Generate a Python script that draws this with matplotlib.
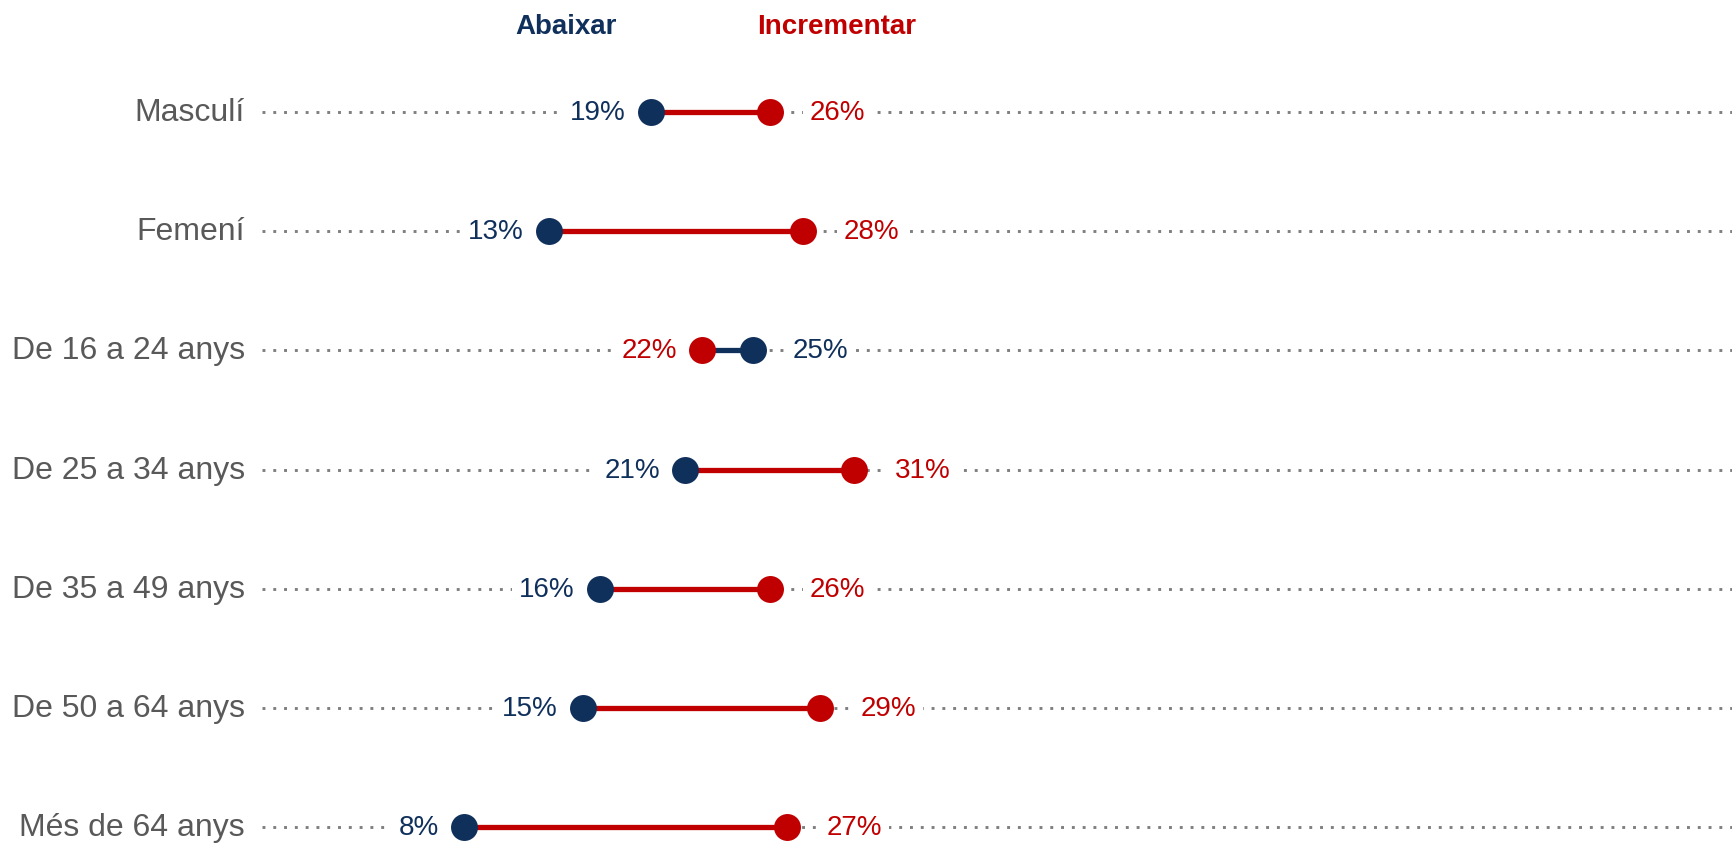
import matplotlib
matplotlib.use("Agg")
import matplotlib.pyplot as plt

plt.rcParams['font.family'] = ['Liberation Sans', 'DejaVu Sans']

# Data
categories = ["Masculí", "Femení", "De 16 a 24 anys", "De 25 a 34 anys",
              "De 35 a 49 anys", "De 50 a 64 anys", "Més de 64 anys"]
abaixar = [19, 13, 25, 21, 16, 15, 8]
incrementar = [26, 28, 22, 31, 26, 29, 27]
series_names = ["Abaixar", "Incrementar"]

BLUE = "#10305C"
RED = "#C00000"
GREY_TXT = "#595959"
GREY_DOT = "#7F7F7F"

W, H, DPI = 1733, 845, 100
fig = plt.figure(figsize=(W / DPI, H / DPI), dpi=DPI)
ax = fig.add_axes([0, 0, 1, 1])

px_per_unit = 16.96
x0_px = 328.6
ax.set_xlim(-x0_px / px_per_unit, (W - x0_px) / px_per_unit)
row_px = 119.2
top_px = 113
ax.set_ylim(6 + (H - (top_px + 6 * row_px)) / row_px, -top_px / row_px)
ax.axis("off")

line_start = -3.93
for i, (cat, a, inc) in enumerate(zip(categories, abaixar, incrementar)):
    # dotted guide line
    ax.plot([line_start, 100], [i, i], color=GREY_DOT, lw=2.1,
            linestyle=(0, (1, 2.7)), zorder=1, solid_capstyle="butt",
            dash_capstyle="butt")
    # connector
    conn_color = RED if inc >= a else BLUE
    ax.plot([a, inc], [i, i], color=conn_color, lw=3.8, zorder=3,
            solid_capstyle="butt")
    # endpoints
    ax.plot([a], [i], "o", color=BLUE, ms=19.4, mew=0, zorder=4)
    ax.plot([inc], [i], "o", color=RED, ms=19.4, mew=0, zorder=4)

    # value labels: lower value on the left, higher value on the right
    vals = [(a, BLUE), (inc, RED)]
    vals.sort(key=lambda v: v[0])
    (lv, lc), (rv, rc) = vals
    # clear the guide between the left label and its marker
    ax.plot([lv - 32 / px_per_unit, lv], [i, i], color="white", lw=8,
            zorder=1.5, solid_capstyle="butt")
    ax.annotate(f"{lv}%", (lv, i), xytext=(-18, 0), textcoords="offset points",
                ha="right", va="center", fontsize=20, color=lc, zorder=2,
                bbox=dict(boxstyle="square,pad=0.25", fc="white", ec="none"))
    ax.annotate(f"{rv}%", (rv, i), xytext=(29, 0), textcoords="offset points",
                ha="left", va="center", fontsize=20, color=rc, zorder=2,
                bbox=dict(boxstyle="square,pad=0.25", fc="white", ec="none"))

    # category label
    ax.text(-4.93, i, cat, ha="right", va="center", fontsize=23,
            color=GREY_TXT)

# series headers
fig.text(566 / W, 1 - 27 / H, series_names[0], ha="center", va="center",
         fontsize=20, fontweight="bold", color=BLUE)
fig.text(836.5 / W, 1 - 27 / H, series_names[1], ha="center", va="center",
         fontsize=20, fontweight="bold", color=RED)

fig.savefig("out.png", dpi=DPI, facecolor="white")
